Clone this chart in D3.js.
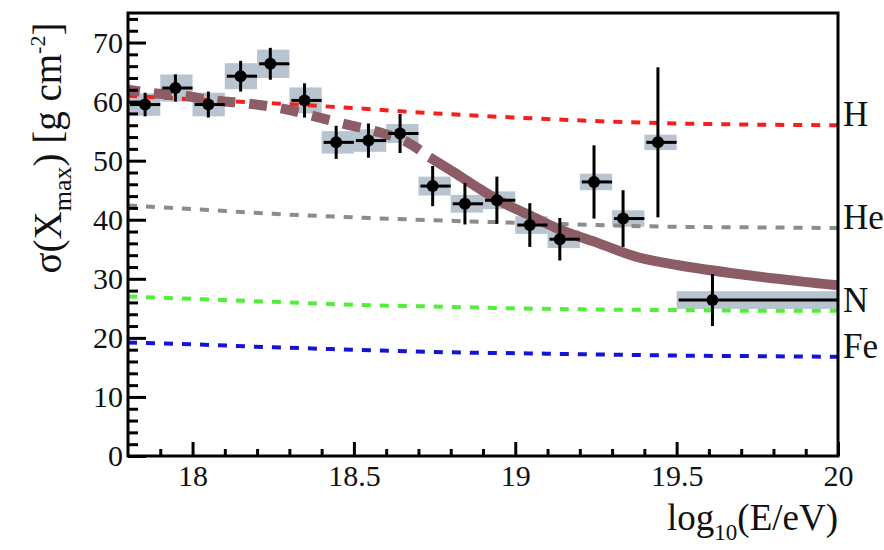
<!DOCTYPE html>
<html><head><meta charset="utf-8">
<script src="https://cdn.jsdelivr.net/npm/d3@7/dist/d3.min.js"></script>
<style>body{margin:0;background:#fff}svg{display:block}
svg text{font-family:"Liberation Serif","Times New Roman",serif !important;}</style>
</head><body>
<svg id="c" width="884" height="550"></svg>
<script>
// ---- data ----
const binLo = [17.8,17.9,18.0,18.1,18.2,18.3,18.4,18.5,18.6,18.7,18.8,18.9,19.0,19.1,19.2,19.3,19.4,19.5];
const binHi = [17.9,18.0,18.1,18.2,18.3,18.4,18.5,18.6,18.7,18.8,18.9,19.0,19.1,19.2,19.3,19.4,19.5,20.0];
const meanLgE = [17.853,17.947,18.049,18.149,18.241,18.347,18.445,18.545,18.643,18.744,18.844,18.943,19.045,19.138,19.244,19.334,19.442,19.611];
const sigmaXmax = [59.5,62.3,59.5,64.3,66.4,60.2,53.1,53.4,54.6,45.7,42.7,43.3,39.1,36.7,46.4,40.2,53.1,26.4];
const statErr = [2.0,2.3,2.2,2.6,2.7,2.9,2.8,2.9,3.3,3.4,3.5,4.0,3.7,3.6,6.2,4.8,12.7,4.4];
const sysErr = [1.9,2.3,2.0,2.2,2.4,2.2,1.9,1.9,1.6,1.6,1.5,1.5,1.5,1.5,1.4,1.4,1.3,1.5];

const modelLgE = [17.8,18.0,18.25,18.5,18.75,19.0,19.25,19.5,19.75,20.0];
const modelH  = [61.0,60.4,59.7,58.9,58.0,57.3,56.7,56.3,56.1,56.0];
const modelHe = [42.4,41.8,41.0,40.4,39.9,39.5,39.1,38.8,38.7,38.6];
const modelN  = [27.0,26.6,26.1,25.6,25.3,25.0,24.8,24.7,24.6,24.6];
const modelFe = [19.2,18.9,18.4,18.0,17.6,17.4,17.2,17.0,16.9,16.8];
const modelNames = ["H","He","N","Fe"];

const fitLgE   = [17.8,17.868,17.97,18.069,18.183,18.279,18.378,18.486,18.579,18.666,18.734,18.811,18.888,18.965,19.043,19.135,19.259,19.383,19.506,19.723,20.0];
const fitSigma = [62.0,61.5,61.0,60.2,59.6,58.8,57.5,56.0,54.8,53.1,50.6,48.0,45.3,42.8,40.8,38.4,36.0,33.6,32.3,30.6,28.9];
const fitSolidFrom = 18.734;

const xTicksMajor = [18,18.5,19,19.5,20];
const xTickLabels = ["18","18.5","19","19.5","20"];
const yTicksMajor = [0,10,20,30,40,50,60,70];

// ---- layout ----
const W = 884, H = 550;
const m = {l:128, r:46, t:13, b:94};
const pw = W - m.l - m.r, ph = H - m.t - m.b;
const svg = d3.select("#c");
const g = svg.append("g").attr("transform",`translate(${m.l},${m.t})`);
const x = d3.scaleLinear().domain([17.8,20]).range([0,pw]);
const y = d3.scaleLinear().domain([0,75]).range([ph,0]);

svg.append("defs").append("clipPath").attr("id","clip")
  .append("rect").attr("width",pw).attr("height",ph);

const plot = g.append("g").attr("clip-path","url(#clip)");

const pts = meanLgE.map((e,i)=>({e, s:sigmaXmax[i], st:statErr[i], sy:sysErr[i], lo:binLo[i], hi:binHi[i]}));

// systematic boxes
plot.selectAll("rect.sys").data(pts).join("rect").attr("class","sys")
  .attr("x",d=>x(d.lo)).attr("width",d=>x(d.hi)-x(d.lo))
  .attr("y",d=>y(d.s+d.sy)).attr("height",d=>y(d.s-d.sy)-y(d.s+d.sy))
  .attr("fill","#b2bfcb").attr("opacity",0.92);

// model lines
const models = [
  {name:modelNames[0], v:modelH, c:"#f5201e"},
  {name:modelNames[1], v:modelHe, c:"#8c8c8c"},
  {name:modelNames[2], v:modelN, c:"#52ee3a"},
  {name:modelNames[3], v:modelFe, c:"#1414d6"}
];
const line = d3.line().x(d=>x(d[0])).y(d=>y(d[1])).curve(d3.curveMonotoneX);
models.forEach(md=>{
  plot.append("path").datum(modelLgE.map((e,i)=>[e,md.v[i]]))
    .attr("d",line).attr("fill","none").attr("stroke",md.c)
    .attr("stroke-width",4).attr("stroke-dasharray","9,9");
});

// fit curve
const fitPts = fitLgE.map((e,i)=>[e,fitSigma[i]]);
plot.append("path").datum(fitPts.filter(d=>d[0]<=fitSolidFrom))
  .attr("d",line).attr("fill","none").attr("stroke","#8c5d66")
  .attr("stroke-width",10).attr("stroke-dasharray","18,14").attr("stroke-dashoffset",6);
plot.append("path").datum(fitPts.filter(d=>d[0]>=fitSolidFrom))
  .attr("d",line).attr("fill","none").attr("stroke","#8c5d66")
  .attr("stroke-width",10);

// error bars
const eb = plot.append("g").attr("stroke","#000").attr("stroke-width",3);
eb.selectAll("line.v").data(pts).join("line")
  .attr("x1",d=>x(d.e)).attr("x2",d=>x(d.e))
  .attr("y1",d=>y(d.s+d.st)).attr("y2",d=>y(d.s-d.st));
eb.selectAll("line.h").data(pts).join("line")
  .attr("x1",d=>x(d.lo)+2).attr("x2",d=>x(d.hi))
  .attr("y1",d=>y(d.s)).attr("y2",d=>y(d.s));
plot.selectAll("circle").data(pts).join("circle")
  .attr("cx",d=>x(d.e)).attr("cy",d=>y(d.s)).attr("r",6).attr("fill","#000");

// axes
g.append("g").call(d3.axisLeft(y).tickValues(yTicksMajor).tickSize(-18).tickPadding(5));
g.append("g").call(d3.axisLeft(y).tickValues(d3.range(0,76,2).filter(v=>v%10!==0)).tickSize(-10).tickFormat(""));
g.append("g").attr("transform",`translate(0,${ph})`)
  .call(d3.axisBottom(x).tickValues(xTicksMajor).tickSize(-14).tickPadding(9).tickFormat((d,i)=>xTickLabels[i]));
g.append("g").attr("transform",`translate(0,${ph})`)
  .call(d3.axisBottom(x).tickValues(d3.range(17.9,20,0.1).filter(v=>Math.abs(v*2-Math.round(v*2))>0.01)).tickSize(-7).tickFormat(""));
g.selectAll(".domain").remove();
g.selectAll(".tick line").attr("stroke","#000").attr("stroke-width",3);
g.selectAll(".tick text").attr("font-size",30).attr("fill","#111");

// frame
g.append("rect").attr("width",pw).attr("height",ph).attr("fill","none")
  .attr("stroke","#000").attr("stroke-width",3);

// model labels
models.forEach(md=>{
  g.append("text").attr("x",pw+5).attr("y",y(md.v[md.v.length-1])+1)
    .attr("font-size",35).attr("fill","#111").text(md.name);
});

// axis titles
const xt = svg.append("text").attr("x",m.l+pw).attr("y",530).attr("text-anchor","end")
  .attr("font-size",37).attr("fill","#111");
xt.append("tspan").text("log");
xt.append("tspan").attr("font-size",23).attr("dy",10).text("10");
xt.append("tspan").attr("dy",-10).text("(E/eV)");

const yt = svg.append("text").attr("transform","translate(61,148) rotate(-90)")
  .attr("text-anchor","middle").attr("font-size",39).attr("fill","#111");
yt.append("tspan").text("σ(X");
yt.append("tspan").attr("font-size",26).attr("dy",10).text("max");
yt.append("tspan").attr("dy",-10).text(") [g cm");
yt.append("tspan").attr("font-size",22).attr("dy",-16).text("-2");
yt.append("tspan").attr("dy",16).text("]");
</script>
</body></html>
